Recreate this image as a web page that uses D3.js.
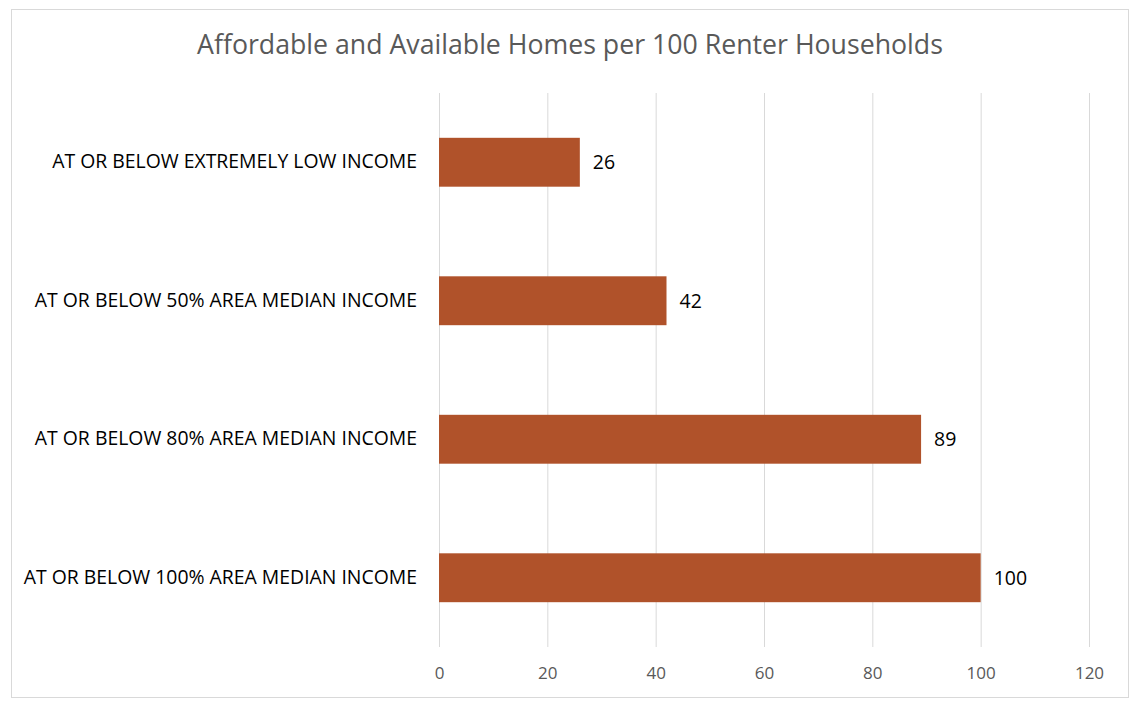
<!DOCTYPE html>
<html>
<head>
<meta charset="utf-8">
<script src="https://cdn.jsdelivr.net/npm/d3@7"></script>
<style>
  body { margin: 0; background: #fff; }
  svg { display: block; }
</style>
</head>
<body>
<svg id="chart" width="1148" height="708"></svg>
<script>
// chart data
var title = "Affordable and Available Homes per 100 Renter Households";
var categories = [
	"AT OR BELOW EXTREMELY LOW INCOME",
	"AT OR BELOW 50% AREA MEDIAN INCOME",
	"AT OR BELOW 80% AREA MEDIAN INCOME",
	"AT OR BELOW 100% AREA MEDIAN INCOME"
];
var values = [26, 42, 89, 100];
var xTicks = [0, 20, 40, 60, 80, 100, 120];

var font = "'Open Sans', 'Noto Sans', sans-serif";
var barColor = "#b0522a";

var margin = {top: 93, right: 59, bottom: 61, left: 439},
	width = 1148 - margin.left - margin.right,
	height = 708 - margin.top - margin.bottom;

var svg = d3.select("#chart");

// outer border
svg.append("rect")
	.attr("x", 11.5).attr("y", 9.5)
	.attr("width", 1117).attr("height", 688)
	.attr("fill", "#fff")
	.attr("stroke", "#d9d9d9")
	.attr("stroke-width", 1);

svg.append("text")
	.attr("x", 570).attr("y", 54)
	.attr("text-anchor", "middle")
	.attr("font-family", font)
	.attr("font-size", 26.7)
	.attr("fill", "#595959")
	.text(title);

var x = d3.scaleLinear().domain([0, 120]).range([0, width]);
var y = d3.scaleBand().domain(categories).range([0, height])
	.paddingInner(0.647).paddingOuter(0.3235);

var g = svg.append("g")
	.attr("transform", "translate(" + margin.left + "," + margin.top + ")");

// gridlines
g.selectAll(".grid")
	.data(xTicks)
  .enter().append("line")
	.attr("class", "grid")
	.attr("x1", function(d) { return x(d) + 0.5; })
	.attr("x2", function(d) { return x(d) + 0.5; })
	.attr("y1", 0).attr("y2", height)
	.attr("stroke", "#d9d9d9")
	.attr("stroke-width", 1);

// x axis labels
var xAxis = d3.axisBottom(x).tickValues(xTicks).tickSize(0).tickPadding(20);
var ax = g.append("g")
	.attr("transform", "translate(0," + height + ")")
	.call(xAxis);
ax.select(".domain").remove();
ax.selectAll("text")
	.attr("font-family", font)
	.attr("font-size", 17)
	.attr("fill", "#595959");

// category labels
var yAxis = d3.axisLeft(y).tickSize(0).tickPadding(22);
var ay = g.append("g").call(yAxis);
ay.select(".domain").remove();
ay.selectAll("text")
	.attr("font-family", font)
	.attr("font-size", 19.4)
	.attr("fill", "#000");

// bars
g.selectAll(".bar")
	.data(values)
  .enter().append("rect")
	.attr("class", "bar")
	.attr("x", x(0))
	.attr("y", function(d, i) { return y(categories[i]); })
	.attr("width", function(d) { return x(d) - x(0); })
	.attr("height", y.bandwidth())
	.attr("fill", barColor);

// value labels
g.selectAll(".val")
	.data(values)
  .enter().append("text")
	.attr("class", "val")
	.attr("x", function(d) { return x(d) + 13; })
	.attr("y", function(d, i) { return y(categories[i]) + y.bandwidth() / 2; })
	.attr("dy", "0.35em")
	.attr("font-family", font)
	.attr("font-size", 19.5)
	.attr("fill", "#000")
	.text(function(d) { return d; });
</script>
</body>
</html>
